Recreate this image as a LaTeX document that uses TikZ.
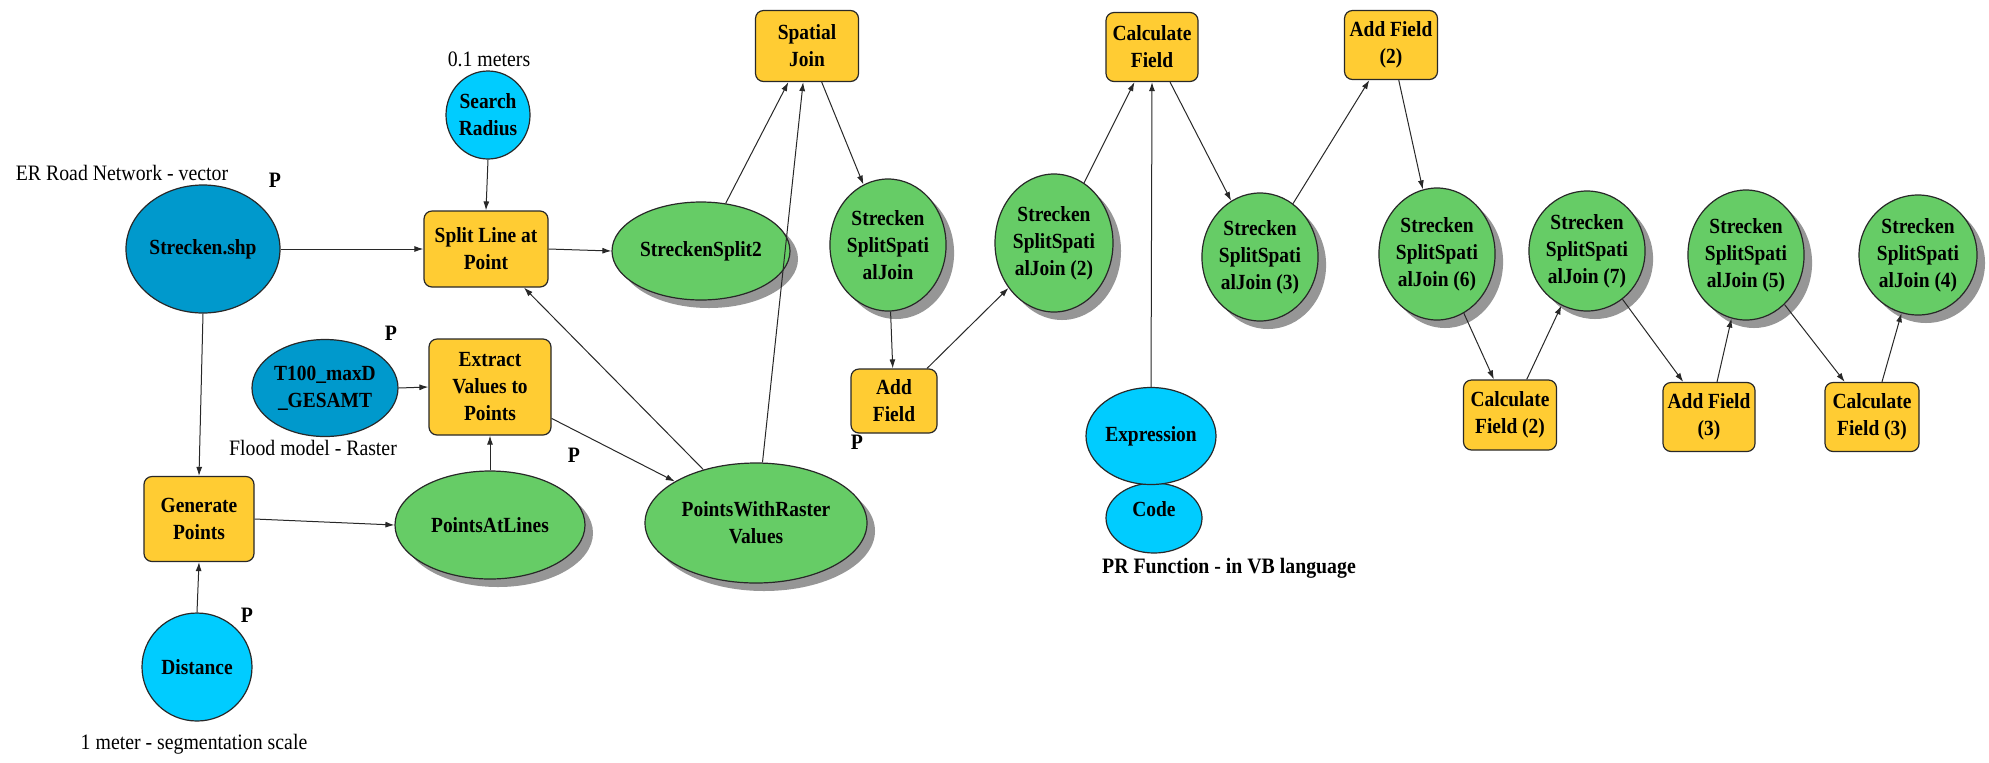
\documentclass[tikz,border=0pt]{standalone}
\usepackage{fontspec}
\setmainfont{Liberation Serif}[FakeStretch=0.9]
\usetikzlibrary{shapes.geometric,arrows.meta,shadows}

\definecolor{toolyellow}{RGB}{255,204,51}
\definecolor{datablue}{RGB}{0,153,204}
\definecolor{valuecyan}{RGB}{0,204,255}
\definecolor{outgreen}{RGB}{102,204,102}
\definecolor{shadowgray}{RGB}{150,150,150}
\definecolor{edgegray}{RGB}{40,40,40}

\begin{document}
\begin{tikzpicture}[x=0.5pt,y=-0.5pt,
  every node/.style={font=\fontsize{10.8}{13.5}\selectfont\bfseries,
    align=center, inner sep=0pt},
  tool/.style={draw=edgegray, line width=0.6pt, fill=toolyellow,
    rounded corners=4pt, rectangle},
  blob/.style={draw=edgegray, line width=0.6pt, ellipse},
  inputdata/.style={blob, fill=datablue},
  inputvalue/.style={blob, fill=valuecyan},
  derived/.style={blob, fill=outgreen,
    drop shadow={shadow xshift=4pt, shadow yshift=-4pt,
      fill=shadowgray, opacity=1}},
  note/.style={font=\fontsize{11}{13.5}\selectfont\mdseries},
  flag/.style={font=\fontsize{11}{13.5}\selectfont\bfseries},
  link/.style={draw=edgegray, line width=0.5pt,
    -{Latex[length=4.5pt,width=3pt]}},
]
% canvas
\fill[white] (0,0) rectangle (1989,762);
\path[use as bounding box] (0,0) rectangle (1989,762);

% ---------- inputs ----------
\node[inputdata, minimum width=77pt, minimum height=64pt] (strecken) at (203,249) {Strecken.shp};
\node[inputvalue, minimum width=42pt, minimum height=44pt] (search) at (488,115) {Search\\Radius};
\node[inputdata, minimum width=73pt, minimum height=48.5pt] (t100) at (325,388) {T100\_maxD\\\_GESAMT};
\node[inputvalue, minimum width=55pt, minimum height=54pt] (dist) at (197,667) {Distance};
\node[inputvalue, minimum width=48pt, minimum height=35pt] (code) at (1154,518) {};
\node (codetext) at (1154,509) {Code};
\node[inputvalue, minimum width=65pt, minimum height=48.5pt] (expr) at (1151,436) {Expression};

% ---------- tools ----------
\node[tool, minimum width=62pt, minimum height=38pt] (split) at (486,249) {Split Line at\\Point};
\node[tool, minimum width=61pt, minimum height=48pt] (extract) at (490,387) {Extract\\Values to\\Points};
\node[tool, minimum width=55pt, minimum height=42.5pt] (gen) at (199,519) {Generate\\Points};
\node[tool, minimum width=51.5pt, minimum height=35.5pt] (sj) at (807,46) {Spatial\\Join};
\node[tool, minimum width=43pt, minimum height=32pt] (af) at (894,401) {Add\\Field};
\node[tool, minimum width=46pt, minimum height=34.5pt] (cf) at (1152,47) {Calculate\\Field};
\node[tool, minimum width=46.5pt, minimum height=34.5pt] (af2) at (1391,45) {Add Field\\(2)};
\node[tool, minimum width=46.5pt, minimum height=35pt] (cf2) at (1510,415) {Calculate\\Field (2)};
\node[tool, minimum width=46pt, minimum height=34.5pt] (af3) at (1709,417) {Add Field\\(3)};
\node[tool, minimum width=47pt, minimum height=34.5pt] (cf3) at (1872,417) {Calculate\\Field (3)};

% ---------- derived data ----------
\node[derived, minimum width=89pt, minimum height=49pt] (ss2) at (701,251) {StreckenSplit2};
\node[derived, minimum width=95pt, minimum height=54pt] (pal) at (490,525) {PointsAtLines};
\node[derived, minimum width=111pt, minimum height=60pt] (pwr) at (756,523) {PointsWithRaster\\Values};
\node[derived, minimum width=58pt, minimum height=66pt] (ssj) at (888,245) {Strecken\\SplitSpati\\alJoin};
\node[derived, minimum width=59pt, minimum height=69pt] (ssj2) at (1054,243) {Strecken\\SplitSpati\\alJoin (2)};
\node[derived, minimum width=58pt, minimum height=64pt] (ssj3) at (1260,257) {Strecken\\SplitSpati\\alJoin (3)};
\node[derived, minimum width=58pt, minimum height=66pt] (ssj6) at (1437,254) {Strecken\\SplitSpati\\alJoin (6)};
\node[derived, minimum width=58pt, minimum height=60pt] (ssj7) at (1587,251) {Strecken\\SplitSpati\\alJoin (7)};
\node[derived, minimum width=58pt, minimum height=65pt] (ssj5) at (1746,255) {Strecken\\SplitSpati\\alJoin (5)};
\node[derived, minimum width=59pt, minimum height=60pt] (ssj4) at (1918,255) {Strecken\\SplitSpati\\alJoin (4)};

% ---------- captions ----------
\node[note] (capradius) at (489,59) {0.1 meters};
\node[note] (caproad) at (122,173) {ER Road Network - vector};
\node[note] (capflood) at (313,448) {Flood model - Raster};
\node[note] (capdist) at (194,744) {1 meter - segmentation scale};
\node[flag] (capcode) at (1229,568) {PR Function - in VB language};
\node[flag] (p1) at (275,180) {P};
\node[flag] (p2) at (391,333) {P};
\node[flag] (p3) at (574,455) {P};
\node[flag] (p4) at (247,615) {P};
\node[flag] (p5) at (857,442) {P};

% ---------- connectors ----------
\draw[link] (strecken.east) -- (split.west);
\draw[link] (search.south) -- (split.north);
\draw[link] (split.east) -- (ss2.west);
\draw[link] (strecken.south) -- (gen.north);
\draw[link] (t100.east) -- (extract.west);
\draw[link] (dist.north) -- (gen.south);
\draw[link] (gen.east) -- (pal.west);
\draw[link] (pal.north) -- (extract.south);
\draw[link] (extract.-27) -- (pwr);
\draw[link] (pwr) -- (split);
\draw[link] (pwr) -- (sj);
\draw[link] (ss2) -- (sj);
\draw[link] (sj) -- (ssj);
\draw[link] (ssj) -- (af);
\draw[link] (af) -- (ssj2);
\draw[link] (ssj2) -- (cf);
\draw[link] (expr.north) -- (cf.south);
\draw[link] (cf) -- (ssj3);
\draw[link] (ssj3) -- (af2);
\draw[link] (af2) -- (ssj6);
\draw[link] (ssj6) -- (cf2);
\draw[link] (cf2) -- (ssj7);
\draw[link] (ssj7) -- (af3);
\draw[link] (af3) -- (ssj5);
\draw[link] (ssj5) -- (cf3);
\draw[link] (cf3) -- (ssj4);
\end{tikzpicture}
\end{document}
